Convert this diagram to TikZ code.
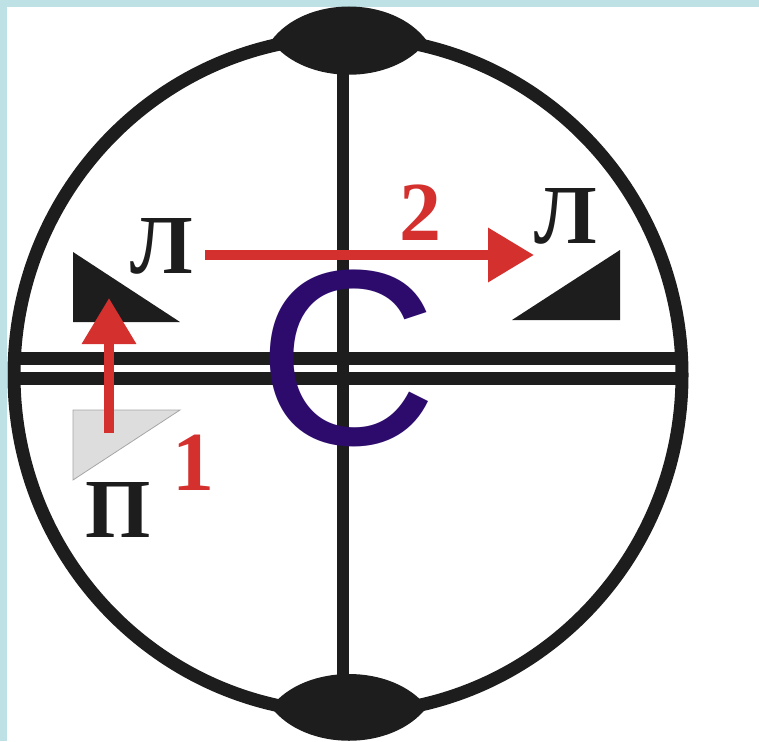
\documentclass[tikz,border=0pt]{standalone}
\usepackage{fontspec}
\setmainfont{Liberation Serif}
\newfontfamily\bigsans{Liberation Sans}
\usetikzlibrary{arrows.meta}
\definecolor{ink}{HTML}{1D1D1D}
\definecolor{redarr}{HTML}{D3302E}
\definecolor{purp}{HTML}{2C0B6C}
\definecolor{bgblue}{HTML}{BDE1E5}
\definecolor{lightgr}{HTML}{DDDDDD}
\tikzset{
  ring/.style={draw=ink, line width=13pt},
  bar/.style={draw=ink, line width=13pt},
  axis/.style={draw=ink, line width=12pt},
  lens/.style={fill=ink},
  redarrow/.style={draw=redarr, line width=10pt, -{Triangle[length=46pt,width=52pt]}, shorten >=0pt},
  lab/.style={inner sep=0pt, anchor=base, text=ink, font=\bfseries\fontsize{84}{84}\selectfont},
  num/.style={inner sep=0pt, anchor=base, text=redarr, font=\bfseries\fontsize{84}{84}\selectfont},
}
\begin{document}
\begin{tikzpicture}[x=1pt,y=-1pt]
\useasboundingbox (0,0) rectangle (759,741);
\fill[bgblue] (0,0) rectangle (759,741);
\fill[white] (7,7) rectangle (759,741);
\begin{scope}
\clip (0,0) rectangle (759,741);
% horizontal double bars
\coordinate (bl1) at (14,358.5); \coordinate (br1) at (682,358.5);
\coordinate (bl2) at (14,378.5); \coordinate (br2) at (682,378.5);
\draw[bar] (bl1) -- (br1);
\draw[bar] (bl2) -- (br2);
% ring
\draw[ring] (348,375) ellipse [x radius=334pt, y radius=338pt];
% vertical axis
\coordinate (top) at (343,41);
\coordinate (bot) at (343,707);
\draw[axis] (top) -- (bot);
% lenses
\fill[lens] (271,41) .. controls (305,-5) and (393,-5) .. (427,41)
   .. controls (393,86) and (305,86) .. cycle;
\fill[lens] (271,707) .. controls (305,663) and (393,663) .. (427,707)
   .. controls (393,752) and (305,752) .. cycle;
% triangles
\fill[ink] (73,252) -- (73,322) -- (180,322) -- cycle;
\filldraw[fill=lightgr, draw=gray!70, line width=0.8pt] (73,410) -- (180,410) -- (73,480) -- cycle;
\fill[ink] (620,250) -- (620,320) -- (512,320) -- cycle;
% big letter
\node[inner sep=0pt, anchor=base, text=purp, font=\bigsans\fontsize{250}{250}\selectfont] (C) at (348,444) {С};
% arrows
\coordinate (a1s) at (109,433);
\coordinate (a1e) at (109,298);
\draw[redarrow] (a1s) -- (a1e);
\coordinate (a2s) at (205,255);
\coordinate (a2e) at (534,255);
\draw[redarrow] (a2s) -- (a2e);
% labels
\node[lab] (L1) at (162,273) {Л};
\node[lab] (L2) at (566,243) {Л};
\node[lab] (P) at (118,537) {П};
\node[num] (n1) at (193,490) {1};
\node[num] (n2) at (420,240) {2};
\end{scope}
\end{tikzpicture}
\end{document}
